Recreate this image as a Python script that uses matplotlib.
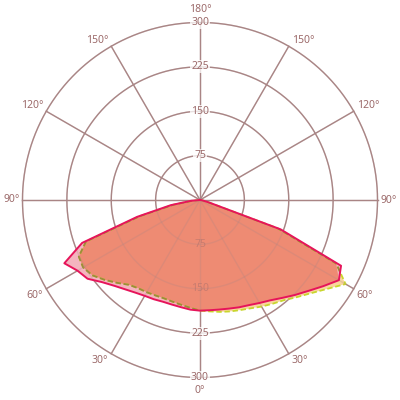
import matplotlib
matplotlib.use('Agg')
import matplotlib.pyplot as plt
import numpy as np

# gamma angles (deg), 0 = straight down
gamma = [0, 5, 10, 15, 20, 25, 30, 35, 40, 45, 50, 55, 60, 65, 70, 75, 80, 85, 90]

# solid curve (C0 right / C180 left)
red_c0 = [187, 187, 188, 190, 193, 196, 201, 207, 216, 227, 239, 254, 271, 263, 145, 15, 5, 2, 0]
red_c180 = [187, 186, 184, 183, 183, 185, 187, 191, 197, 205, 216, 232, 239, 253, 212, 110, 50, 15, 0]

# dashed curve (C90 right / C270 left)
dash_c90 = [187, 189, 192, 195, 198, 202, 208, 214, 221, 232, 245, 262, 284, 254, 140, 14, 5, 2, 0]
dash_c270 = [187, 183, 180, 178, 177, 178, 180, 182, 187, 198, 210, 222, 228, 226, 205, 105, 45, 12, 0]

rings = [75, 150, 225, 300]
angle_ticks = [0, 30, 60, 90, 120, 150, 180]

grid_col = '#a98585'
text_col = '#9c6a6a'
plt.rcParams['font.family'] = ['Noto Sans', 'DejaVu Sans']


def closed(left, right):
    g = np.radians(gamma)
    th = np.concatenate([-g[::-1], g[1:]])
    r = np.concatenate([np.array(left)[::-1], np.array(right)[1:]])
    return th, r


fig = plt.figure(figsize=(4, 4), dpi=100)
ax = fig.add_axes([0, 0, 1, 1], projection='polar')
ax.set_theta_zero_location('S')
ax.set_ylim(0, 338)
ax.grid(False)
ax.spines['polar'].set_visible(False)
ax.set_xticks([])
ax.set_yticks([])
ax.patch.set_alpha(0)


def draw_grid(z, alpha):
    tt = np.linspace(0, 2 * np.pi, 721)
    for v in rings:
        ax.plot(tt, np.full_like(tt, v), color=grid_col, lw=1.0, zorder=z, alpha=alpha)
    for k in range(12):
        t = np.radians(k * 30)
        ax.plot([t, t], [0, 300], color=grid_col, lw=1.0, zorder=z, alpha=alpha)


draw_grid(1, 1.0)

# radial value labels on the vertical axis
for v in rings:
    for t in (0, np.pi):
        ax.text(t, v, str(v), ha='center', va='center', fontsize=7.5, color=text_col, zorder=1.5,
                bbox=dict(boxstyle='square,pad=0.1', fc='white', ec='none'))

# angle labels, placed just outside the end of each spoke
for a in angle_ticks:
    sides = [a] if a in (0, 180) else [a, -a]
    for s in sides:
        if a == 0:
            ha, va, off = 'center', 'top', (0, -7)
        elif a == 180:
            ha, va, off = 'center', 'bottom', (0, 7)
        else:
            ha = 'left' if s > 0 else 'right'
            dx = 3 if s > 0 else -3
            if a < 90:
                va, off = 'top', (dx, -1)
            elif a > 90:
                va, off = 'bottom', (dx, 0)
            else:
                va, off = 'center', (dx, 0)
        ax.annotate(f'{a}°', xy=(np.radians(s), 300), xytext=off, textcoords='offset pixels',
                    ha=ha, va=va, fontsize=7.5, color=text_col, zorder=1.5)

th_r, r_r = closed(red_c180, red_c0)
th_d, r_d = closed(dash_c270, dash_c90)
r_min = np.minimum(r_r, r_d)

ax.fill(th_d, r_d, color='#f9d59e', lw=0, zorder=2)
red_patch = ax.fill(th_r, r_r, color='#f4b4bf', lw=0, zorder=2.1)[0]
ax.fill(th_r, r_min, color='#ee8b73', lw=0, zorder=2.2)

ax.plot(th_d, r_d, color='#c8d62c', lw=1.3, ls=(0, (3, 1.5)), zorder=2.5)
olive = ax.plot(th_d, r_d, color='#9c8a3c', lw=1.3, ls=(0, (3, 1.5)), zorder=2.6)[0]
olive.set_clip_path(red_patch)

# faint grid / labels seen through the filled area
draw_grid(2.7, 0.25)
for v in rings:
    if v < red_c0[0]:
        ax.text(0, v, str(v), ha='center', va='center', fontsize=7.5, color=text_col,
                alpha=0.45, zorder=2.7)

ax.plot(th_r, r_r, color='#e6145a', lw=1.4, zorder=3)

fig.savefig('out.png', dpi=100)
